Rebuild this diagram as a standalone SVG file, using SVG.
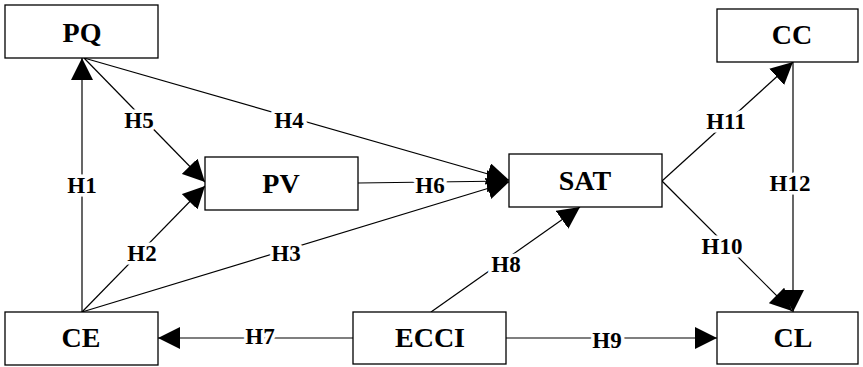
<svg xmlns="http://www.w3.org/2000/svg" width="863" height="367" viewBox="0 0 863 367">
<defs>
<style>
.box{fill:#fff;stroke:#000;stroke-width:1.3}
.nt{font-family:"Liberation Serif","Times New Roman",serif;font-weight:bold;font-size:28px;text-anchor:middle;fill:#000}
.edge{stroke:#000;stroke-width:1.2;fill:none;marker-end:url(#ah)}
.lb{font-family:"Liberation Serif","Times New Roman",serif;font-weight:bold;font-size:23px;text-anchor:middle;fill:#000;stroke:#fff;stroke-width:7;paint-order:stroke;stroke-linejoin:round}
</style>
<marker id="ah" markerUnits="userSpaceOnUse" markerWidth="22" markerHeight="22" viewBox="0 0 22 22" refX="22" refY="11" orient="auto">
<path d="M0,0 L22,11 L0,22 z" fill="#000"/>
</marker>
</defs>
<rect width="863" height="367" fill="#fff"/>
<g id="connectors">
<line class="edge" x1="82" y1="312" x2="82" y2="58"/>
<line class="edge" x1="84" y1="58" x2="205" y2="182"/>
<line class="edge" x1="84" y1="58" x2="509" y2="180"/>
<line class="edge" x1="82" y1="312" x2="205" y2="186"/>
<line class="edge" x1="82" y1="312" x2="509" y2="182"/>
<line class="edge" x1="358" y1="183" x2="509" y2="181"/>
<line class="edge" x1="431" y1="312" x2="580" y2="207"/>
<line class="edge" x1="662" y1="181" x2="793" y2="62"/>
<line class="edge" x1="662" y1="181" x2="792" y2="311"/>
<line class="edge" x1="793" y1="62" x2="793" y2="312"/>
<line class="edge" x1="353" y1="338" x2="158" y2="338"/>
<line class="edge" x1="506" y1="338" x2="717" y2="338"/>
<text class="lb" x="82" y="193">H1</text>
<text class="lb" x="139" y="128">H5</text>
<text class="lb" x="289" y="128">H4</text>
<text class="lb" x="142" y="261">H2</text>
<text class="lb" x="286" y="261">H3</text>
<text class="lb" x="430" y="193">H6</text>
<text class="lb" x="260" y="344">H7</text>
<text class="lb" x="506" y="272">H8</text>
<text class="lb" x="607" y="348">H9</text>
<text class="lb" x="726" y="129">H11</text>
<text class="lb" x="790" y="191">H12</text>
<text class="lb" x="722" y="254">H10</text>
</g>
<g id="PQ"><rect class="box" x="5" y="5" width="153" height="53"/><text class="nt" x="82" y="42">PQ</text></g>
<g id="PV"><rect class="box" x="205" y="157" width="153" height="53"/><text class="nt" x="281" y="193">PV</text></g>
<g id="SAT"><rect class="box" x="509" y="154" width="153" height="53"/><text class="nt" x="585" y="190">SAT</text></g>
<g id="CC"><rect class="box" x="717" y="9" width="141" height="53"/><text class="nt" x="792" y="44">CC</text></g>
<g id="CL"><rect class="box" x="717" y="312" width="141" height="52"/><text class="nt" x="793" y="347">CL</text></g>
<g id="CE"><rect class="box" x="5" y="312" width="153" height="53"/><text class="nt" x="81" y="347">CE</text></g>
<g id="ECCI"><rect class="box" x="353" y="312" width="153" height="52"/><text class="nt" x="430" y="347">ECCI</text></g>
</svg>
